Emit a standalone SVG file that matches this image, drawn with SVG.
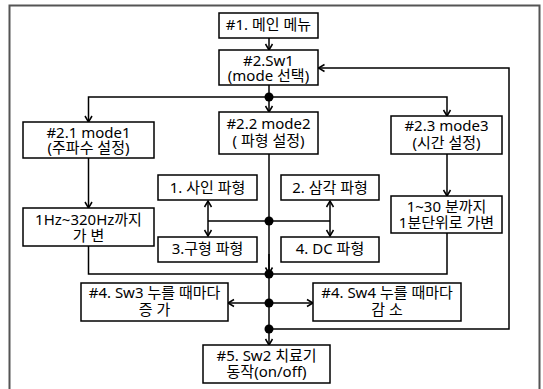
<svg xmlns="http://www.w3.org/2000/svg" width="543" height="389" viewBox="0 0 543 389">
<style>
.box{fill:#fff;stroke:#000;stroke-width:1.5}
.t{font-family:"Noto Sans","Noto Sans CJK KR",sans-serif;font-size:15px;text-anchor:middle;fill:#000}
.c{fill:none;stroke:#000;stroke-width:1.5}
.d{fill:#000}
</style>
<defs>
<marker id="a" markerWidth="10" markerHeight="10" refX="8" refY="5" orient="auto-start-reverse" markerUnits="userSpaceOnUse">
<path d="M2,1.5 L8,5 L2,8.5" fill="none" stroke="#000" stroke-width="1.5"/>
</marker>
</defs>
<rect width="543" height="389" fill="#fff"/>
<path d="M9.5,395 V5.5 H539.5 V395" fill="none" stroke="#555" stroke-width="2"/>
<g id="connectors">
<path class="c" d="M269,38 V50" marker-end="url(#a)"/>
<path class="c" d="M269,85 V112" marker-end="url(#a)"/>
<path class="c" d="M269,97 H88.5 V122" marker-end="url(#a)"/>
<path class="c" d="M269,97 H447 V116" marker-end="url(#a)"/>
<path class="c" d="M88.5,158 V208" marker-end="url(#a)"/>
<path class="c" d="M447,154 V196" marker-end="url(#a)"/>
<path class="c" d="M269,154 V274"/>
<path class="c" d="M269,254 V273.5" marker-end="url(#a)"/>
<path class="c" d="M208,221 H330"/>
<path class="c" d="M208,201 V236" marker-start="url(#a)" marker-end="url(#a)"/>
<path class="c" d="M330,201 V236" marker-start="url(#a)" marker-end="url(#a)"/>
<path class="c" d="M88.5,246 V274 H447 V233"/>
<path class="c" d="M269,274 V345" marker-end="url(#a)"/>
<path class="c" d="M228,303 H313" marker-start="url(#a)" marker-end="url(#a)"/>
<path class="c" d="M269,329 H509 V68 H318.5" marker-end="url(#a)"/>
<circle class="d" cx="269" cy="97" r="4.5"/>
<circle class="d" cx="269" cy="221" r="4.5"/>
<circle class="d" cx="269" cy="274" r="4.5"/>
<circle class="d" cx="269" cy="303" r="4.5"/>
<circle class="d" cx="269" cy="329" r="4.5"/>
</g>
<g id="n1"><rect class="box" x="219" y="13" width="99" height="25"/><text class="t" x="268.5" y="30">#1. 메인 메뉴</text></g>
<g id="n2"><rect class="box" x="219" y="50" width="99" height="35"/><text class="t" x="268.5" y="66">#2.Sw1</text><text class="t" x="268.5" y="81">(mode 선택)</text></g>
<g id="n21"><rect class="box" x="23" y="122" width="131" height="36"/><text class="t" x="88.5" y="138">#2.1 mode1</text><text class="t" x="88.5" y="153">(주파수 설정)</text></g>
<g id="n22"><rect class="box" x="219" y="112" width="99" height="42"/><text class="t" x="268.5" y="129">#2.2 mode2</text><text class="t" x="268.5" y="146">( 파형 설정)</text></g>
<g id="n23"><rect class="box" x="391" y="116" width="111" height="38"/><text class="t" x="446.5" y="131">#2.3 mode3</text><text class="t" x="446.5" y="148">(시간 설정)</text></g>
<g id="n211"><rect class="box" x="23" y="208" width="131" height="38"/><text class="t" x="88.5" y="225">1Hz~320Hz까지</text><text class="t" x="88.5" y="241">가 변</text></g>
<g id="w1"><rect class="box" x="158" y="175" width="99" height="25"/><text class="t" x="207.5" y="193">1. 사인 파형</text></g>
<g id="w2"><rect class="box" x="281" y="175" width="98" height="25"/><text class="t" x="330" y="193">2. 삼각 파형</text></g>
<g id="w3"><rect class="box" x="158" y="237" width="99" height="25"/><text class="t" x="207.5" y="254">3.구형 파형</text></g>
<g id="w4"><rect class="box" x="281" y="237" width="98" height="25"/><text class="t" x="330" y="254">4. DC 파형</text></g>
<g id="n231"><rect class="box" x="391" y="196" width="111" height="37"/><text class="t" x="446.5" y="212">1~30 분까지</text><text class="t" x="446.5" y="228">1분단위로 가변</text></g>
<g id="n4a"><rect class="box" x="81" y="283" width="147" height="38"/><text class="t" x="154.5" y="298">#4. Sw3 누를 때마다</text><text class="t" x="154.5" y="315">증 가</text></g>
<g id="n4b"><rect class="box" x="313" y="283" width="148" height="38"/><text class="t" x="387" y="298">#4. Sw4 누를 때마다</text><text class="t" x="387" y="315">감 소</text></g>
<g id="n5"><rect class="box" x="203" y="345" width="127" height="38"/><text class="t" x="266.5" y="361">#5. Sw2 치료기</text><text class="t" x="266.5" y="377">동작(on/off)</text></g>
</svg>
